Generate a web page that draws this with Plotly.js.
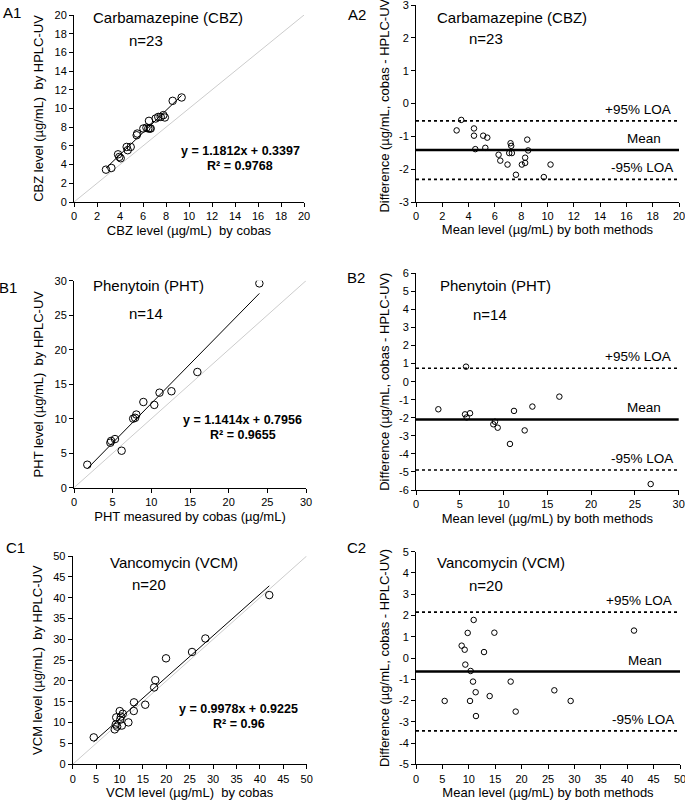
<!DOCTYPE html>
<html><head><meta charset="utf-8">
<script src="https://cdn.plot.ly/plotly-3.0.1.min.js"></script>
<style>html,body{margin:0;padding:0;background:#fff}</style>
</head><body><div id="chart" style="width:685px;height:804px"></div>
<script>
// ---------- DATA ----------
// Carbamazepine (CBZ)
const cbzCobas = [2.78,3.25,3.83,3.94,4.06,4.58,4.67,4.93,5.45,5.50,6.03,6.30,6.46,6.52,6.60,6.67,7.10,7.33,7.54,7.77,7.90,8.58,9.36];
const cbzHplc  = [3.46,3.64,5.10,4.82,4.68,5.89,5.54,5.89,7.14,7.32,7.86,7.95,7.86,8.68,7.86,7.86,8.93,9.10,9.10,9.29,9.04,10.82,11.18];
const cbzFit   = [1.1812, 0.3397];           // slope, intercept
const cbzR2    = "0.9768";
const cbzMean  = [3.09,3.44,4.41,4.41,4.51,5.11,5.27,5.42,6.28,6.41,6.96,7.09,7.19,7.24,7.29,7.60,8.05,8.30,8.30,8.46,8.53,9.72,10.23];
const cbzDiff  = [-0.82,-0.50,-0.76,-0.98,-1.39,-0.98,-1.35,-1.04,-1.56,-1.74,-1.86,-1.51,-1.21,-1.29,-1.51,-2.17,-1.86,-1.65,-1.81,-1.10,-1.43,-2.24,-1.86];
const cbzLoa   = [-1.42, -0.53, -2.31];      // mean, +95% LOA, -95% LOA

// Phenytoin (PHT)
const phtCobas = [1.72,4.70,4.80,5.30,6.16,7.65,7.91,8.06,8.97,10.38,11.06,12.60,15.95,23.97];
const phtHplc  = [3.33,6.52,6.78,7.05,5.36,10.01,10.13,10.60,12.42,12.00,13.77,13.98,16.77,29.61];
const phtFit   = [1.1414, 0.7956];
const phtR2    = "0.9655";
const phtMean  = [2.55,5.60,5.79,6.17,5.71,8.83,9.02,9.33,10.73,11.19,12.41,13.29,16.37,26.80];
const phtDiff  = [-1.53,-1.81,-1.98,-1.75,0.83,-2.36,-2.22,-2.55,-3.45,-1.62,-2.70,-1.38,-0.83,-5.67];
const phtLoa   = [-2.09, 0.74, -4.89];

// Vancomycin (VCM)
const vcmCobas = [4.50,8.98,9.20,9.30,9.50,10.05,10.15,10.30,10.50,10.70,11.90,13.05,13.10,15.50,17.40,17.65,19.94,25.50,28.35,42.00];
const vcmHplc  = [6.46,8.38,9.55,11.26,9.04,12.77,10.70,11.45,9.30,12.13,10.06,12.80,14.87,14.30,18.45,20.20,25.44,26.96,30.20,40.62];
const vcmFit   = [0.9978, 0.9225];
const vcmR2    = "0.96";
const vcmMean  = [5.43,8.65,9.22,9.34,9.79,10.23,10.35,10.80,10.92,11.30,11.36,12.88,13.95,14.84,17.93,18.88,22.69,26.20,29.29,41.29];
const vcmDiff  = [-2.02,0.58,0.39,-0.31,1.18,-2.02,-0.61,-1.11,1.79,-1.61,-2.73,0.28,-1.79,1.19,-1.11,-2.52,-5.50,-1.52,-2.02,1.29];
const vcmLoa   = [-0.64, 2.16, -3.43];

// axis ranges / ticks
const cbzRange = [0,20], phtRange = [0,30], vcmRange = [0,50];
const cbzDiffTicks = [-3,-2,-1,0,1,2,3];
const phtDiffTicks = [-6,-5,-4,-3,-2,-1,0,1,2,3,4,5,6];
const vcmDiffTicks = [-5,-4,-3,-2,-1,0,1,2,3,4,5];

// ---------- BUILD ----------
const FONT = 'Liberation Sans, Arial, sans-serif';
const traces = [];
const shapes = [];
const annotations = [];

function scatterPanel(xs, ys, fit, range, ax) {
  const xa = 'x' + ax, ya = 'y' + ax;
  traces.push({x: range, y: range, xaxis: xa, yaxis: ya, mode: 'lines',
    line: {color: '#cccccc', width: 1}, hoverinfo: 'skip'});
  const x0 = Math.min(...xs), x1 = Math.max(...xs);
  traces.push({x: [x0, x1], y: [fit[0]*x0 + fit[1], fit[0]*x1 + fit[1]], xaxis: xa, yaxis: ya,
    mode: 'lines', line: {color: '#000', width: 1}});
  traces.push({x: xs, y: ys, xaxis: xa, yaxis: ya, mode: 'markers',
    marker: {symbol: 'circle-open', size: 7.5, color: '#000', line: {width: 1, color: '#000'}}});
}
function baPanel(xs, ys, loa, ax) {
  const xa = 'x' + ax, ya = 'y' + ax;
  traces.push({x: xs, y: ys, xaxis: xa, yaxis: ya, mode: 'markers',
    marker: {symbol: 'circle-open', size: 5.5, color: '#000', line: {width: 1, color: '#000'}}});
  const styles = [{width: 2.5, dash: 'solid'}, {width: 1.6, dash: 'dot'}, {width: 1.6, dash: 'dot'}];
  const labels = ['Mean', '+95% LOA', '-95% LOA'];
  const xs2 = [-16, -6, -4];
  loa.forEach((v, i) => {
    shapes.push({type: 'line', xref: xa + ' domain', yref: ya, x0: 0, x1: 1, y0: v, y1: v,
      line: {color: '#000', width: styles[i].width, dash: styles[i].dash}});
    annotations.push({xref: xa + ' domain', yref: ya, x: 1, y: v, xanchor: 'right', yanchor: 'bottom',
      xshift: xs2[i], yshift: 2, showarrow: false, text: labels[i],
      font: {family: FONT, size: 13.5, color: '#000'}});
  });
}

scatterPanel(cbzCobas, cbzHplc, cbzFit, cbzRange, '');
baPanel(cbzMean, cbzDiff, cbzLoa, '2');
scatterPanel(phtCobas, phtHplc, phtFit, phtRange, '3');
baPanel(phtMean, phtDiff, phtLoa, '4');
scatterPanel(vcmCobas, vcmHplc, vcmFit, vcmRange, '5');
baPanel(vcmMean, vcmDiff, vcmLoa, '6');

const W = 685, H = 804;
const px = v => v / W, py = v => 1 - v / H;

function axis(domain, range, dtick, title, standoff, anchor, extra) {
  return Object.assign({
    domain: domain, range: range, dtick: dtick, tick0: 0, anchor: anchor,
    showline: true, linecolor: '#000', linewidth: 1, ticks: 'outside', ticklen: 4, tickcolor: '#000',
    showgrid: false, zeroline: false, fixedrange: true, ticklabeloverflow: 'allow',
    tickfont: {family: FONT, size: 11, color: '#000'},
    title: {text: title, standoff: standoff, font: {family: FONT, size: 13, color: '#000'}}
  }, extra || {});
}
function tickOpts(vals) { return {tickmode: 'array', tickvals: vals, ticktext: vals.map(v => String(v))}; }

const layout = {
  width: W, height: H, margin: {l: 0, r: 0, t: 0, b: 0},
  paper_bgcolor: '#fff', plot_bgcolor: '#fff', showlegend: false,
  font: {family: FONT, color: '#000'},
  xaxis:  axis([px(74), px(304)], cbzRange, 2, 'CBZ level (µg/mL)  by cobas', 4, 'y'),
  yaxis:  axis([py(202), py(15)], cbzRange, 2, 'CBZ level (µg/mL)  by HPLC-UV', 7, 'x'),
  xaxis2: axis([px(416), px(679)], cbzRange, 2, 'Mean level (µg/mL) by both methods', 2, 'y2'),
  yaxis2: axis([py(202), py(5)], [-3,3], 1, 'Difference (µg/mL, cobas - HPLC-UV)', 6, 'x2', tickOpts(cbzDiffTicks)),
  xaxis3: axis([px(74), px(306)], phtRange, 5, 'PHT measured by cobas (µg/mL)', 4, 'y3'),
  yaxis3: axis([py(487.7), py(280.7)], phtRange, 5, 'PHT level (µg/mL)  by HPLC-UV', 7, 'x3'),
  xaxis4: axis([px(416), px(678.7)], phtRange, 5, 'Mean level (µg/mL) by both methods', 4, 'y4'),
  yaxis4: axis([py(490), py(273.3)], [-6,6], 1, 'Difference (µg/mL, cobas - HPLC-UV)', 6, 'x4', tickOpts(phtDiffTicks)),
  xaxis5: axis([px(72.7), px(306.7)], vcmRange, 5, 'VCM level (µg/mL)  by cobas', 4, 'y5'),
  yaxis5: axis([py(764.3), py(556)], vcmRange, 5, 'VCM level (µg/mL)  by HPLC-UV', 7, 'x5'),
  xaxis6: axis([px(416), px(680)], vcmRange, 5, 'Mean level (µg/mL) by both methods', 4, 'y6'),
  yaxis6: axis([py(764.3), py(551.7)], [-5,5], 1, 'Difference (µg/mL, cobas - HPLC-UV)', 6, 'x6', tickOpts(vcmDiffTicks)),
  shapes: shapes,
  annotations: annotations
};

function note(text, x, y, size, bold) {
  annotations.push({xref: 'paper', yref: 'paper', x: px(x), y: py(y), xanchor: 'center', yanchor: 'middle',
    showarrow: false, text: bold ? '<b>' + text + '</b>' : text, borderpad: 0,
    font: {family: FONT, size: size, color: '#000'}});
}
// panel labels
note('A1', 12, 12, 15); note('A2', 357, 15, 15);
note('B1', 8, 287, 15); note('B2', 356, 277, 15);
note('C1', 16, 547, 15); note('C2', 356, 547, 15);
// drug titles and n
note('Carbamazepine (CBZ)', 168, 17, 15); note('n=23', 146, 40, 15);
note('Carbamazepine (CBZ)', 512, 17, 15); note('n=23', 486, 39, 15);
note('Phenytoin (PHT)', 148, 285, 15); note('n=14', 146, 313, 15);
note('Phenytoin (PHT)', 495, 285, 15); note('n=14', 490, 314, 15);
note('Vancomycin (VCM)', 174, 562, 15); note('n=20', 149, 584, 15);
note('Vancomycin (VCM)', 501, 562, 15); note('n=20', 486, 585, 15);
// equations
function eq(fit, r2, x, y1, y2) {
  note('y = ' + fit[0].toFixed(4) + 'x + ' + fit[1].toFixed(4), x, y1, 12.5, true);
  note('R² = ' + r2, x, y2, 12.5, true);
}
eq(cbzFit, cbzR2, 240, 151, 166);
eq(phtFit, phtR2, 243, 420, 435);
eq(vcmFit, vcmR2, 239, 709, 724);

Plotly.newPlot('chart', traces, layout, {displayModeBar: false, staticPlot: true});
</script>
</body></html>
